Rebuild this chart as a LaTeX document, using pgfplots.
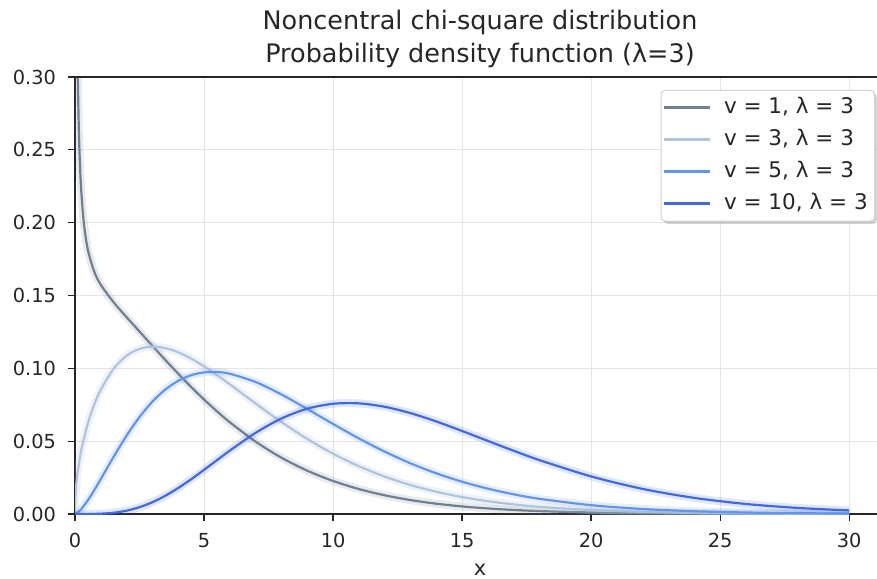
\documentclass[border=0pt]{standalone}
\usepackage{fontspec}
\setmainfont{DejaVu Sans}
\usepackage{pgfplots}
\pgfplotsset{compat=1.18}
\usepackage{pgfplotstable}
\usetikzlibrary{shadows}
\definecolor{c1}{HTML}{708090}
\definecolor{c3}{HTML}{B0C4DE}
\definecolor{c5}{HTML}{6495ED}
\definecolor{c10}{HTML}{4169E1}
\definecolor{txt}{HTML}{262626}
\makeatletter
\tikzset{no preactions/.code={\let\tikz@preactions\pgfutil@empty}}
\makeatother

\pgfplotstableread{
x y
0.02 0.6420
0.05 0.4177
0.07 0.3596
0.1 0.30894
0.15 0.26307
0.2 0.23694
0.25 0.21981
0.35 0.19863
0.5 0.18124
0.75 0.16619
1 0.15736
1.5 0.14526
2 0.13510
2.5 0.12526
3 0.11545
3.5 0.10576
4 0.09631
4.5 0.08723
5 0.07860
5.5 0.07050
6 0.06297
7 0.04967
8 0.03866
9 0.02976
10 0.02268
11 0.01714
12 0.01285
13 0.009566
14 0.007077
15 0.005206
16 0.003810
17 0.002775
18 0.002012
20 0.001045
22 0.000535
24 0.000270
26 0.000135
28 0.0000669
30 0.0000328
}\kone

\pgfplotstableread{
x y
0 0
0.01 0.00890
0.05 0.01990
0.1 0.02813
0.25 0.04437
0.5 0.06223
0.75 0.07521
1 0.08534
1.5 0.09980
2 0.10868
2.5 0.11339
3 0.11488
3.5 0.11389
4 0.11099
4.5 0.10669
5 0.10139
5.5 0.09540
6 0.08902
7 0.07586
8 0.06314
9 0.05155
10 0.04141
11 0.03282
12 0.02570
13 0.01991
14 0.01529
15 0.01164
16 0.008798
17 0.006605
18 0.004928
20 0.002698
22 0.001448
24 0.000765
26 0.000398
28 0.000204
30 0.000104
}\kthree

\pgfplotstableread{
x y
0 0
0.1 0.000920
0.25 0.003525
0.5 0.009463
0.75 0.016476
1 0.024008
1.5 0.039362
2 0.053841
2.5 0.066580
3 0.077157
3.5 0.085426
4 0.091417
4.5 0.095277
5 0.097208
5.5 0.097448
6 0.096266
7 0.090612
8 0.082066
9 0.072103
10 0.061807
11 0.051900
12 0.042827
13 0.034814
14 0.027931
15 0.022150
16 0.017386
17 0.013521
18 0.010428
20 0.006066
22 0.003439
24 0.001908
26 0.001038
28 0.000556
30 0.000293
}\kfive

\pgfplotstableread{
x y
0 0
0.5 0.0000152
1 0.000204
1.5 0.000867
2 0.002292
2.5 0.004680
3 0.008108
3.5 0.012542
4 0.017853
4.5 0.023843
5 0.030281
5.5 0.036918
6 0.043512
7 0.055726
8 0.065570
9 0.072287
10 0.075677
11 0.075954
12 0.073611
13 0.069259
14 0.063532
15 0.057007
16 0.050174
17 0.043411
18 0.036992
20 0.025814
22 0.017219
24 0.011060
26 0.006880
28 0.004163
30 0.002459
}\kten

\begin{document}
\begin{tikzpicture}
\useasboundingbox (-37.5bp,-32.5bp) rectangle (401bp,257bp);
\begin{axis}[
  at={(0,0)}, anchor=south west,
  scale only axis, width=401bp, height=218.5bp,
  xmin=0, xmax=31.08, ymin=0, ymax=0.30,
  axis x line*=bottom, axis y line*=left,
  axis line style={line width=0.75pt, txt},
  xtick={0,5,10,15,20,25,30},
  ytick={0,0.05,0.10,0.15,0.20,0.25,0.30},
  tick align=outside, major tick length=3.5bp,
  tick style={line width=0.6pt, txt},
  grid=major, grid style={line width=0.4pt, black!10},
  /pgf/number format/assume math mode=true,
  yticklabel style={/pgf/number format/.cd, fixed, fixed zerofill, precision=2, /tikz/.cd, xshift=-2.5bp},
  xticklabel style={/pgf/number format/.cd, fixed, /tikz/.cd, yshift=-2.5bp},
  ticklabel style={font=\fontsize{9.7}{11}\selectfont, text=txt},
  legend style={
    at={(axis description cs:0.9975,0.9703)}, anchor=north east,
    draw=black!18, line width=0.5pt, rounded corners=2pt, fill=white,
    drop shadow={shadow xshift=1.2bp, shadow yshift=-1.4bp, opacity=0.35},
    font=\fontsize{10.8}{12}\selectfont, text=txt,
    inner xsep=0pt, inner ysep=3.3pt, row sep=5.3bp,
    nodes={inner xsep=3.4bp, inner ysep=0pt, text height=8bp, text depth=2.7bp},
    cells={anchor=west},
  },
  legend image code/.code={%
    \path[draw=none, fill=none, no preactions] (-1.6bp,0bp) -- (26.5bp,0bp);
    \draw[no preactions,#1,line width=1.25bp] (0bp,0bp) -- (23bp,0bp);},
]
\addplot[c1, line width=4bp, opacity=0.16, smooth, forget plot] table {\kone};
\addplot[c1, line width=1.1bp, smooth] table {\kone};
\addlegendentry{v = 1, λ = 3}
\addplot[c3, line width=4bp, opacity=0.2, smooth, forget plot] table {\kthree};
\addplot[c3, line width=1.1bp, smooth] table {\kthree};
\addlegendentry{v = 3, λ = 3}
\addplot[c5, line width=4bp, opacity=0.16, smooth, forget plot] table {\kfive};
\addplot[c5, line width=1.1bp, smooth] table {\kfive};
\addlegendentry{v = 5, λ = 3}
\addplot[c10, line width=4bp, opacity=0.16, smooth, forget plot] table {\kten};
\addplot[c10, line width=1.1bp, smooth] table {\kten};
\addlegendentry{v = 10, λ = 3}
\draw[line width=0.75pt, txt] (rel axis cs:0,1) -- (rel axis cs:1,1);
\end{axis}
\node[anchor=base, text=txt, font=\fontsize{12.8}{14}\selectfont, inner sep=0pt] at (202.5bp,242bp) {Noncentral chi-square distribution};
\node[anchor=base, text=txt, font=\fontsize{12.8}{14}\selectfont, inner sep=0pt] at (202.5bp,225.5bp) {Probability density function (λ=3)};
\node[anchor=base, text=txt, font=\fontsize{10.5}{12}\selectfont, inner sep=0pt] at (202.5bp,-30.5bp) {x};
\end{tikzpicture}
\end{document}
